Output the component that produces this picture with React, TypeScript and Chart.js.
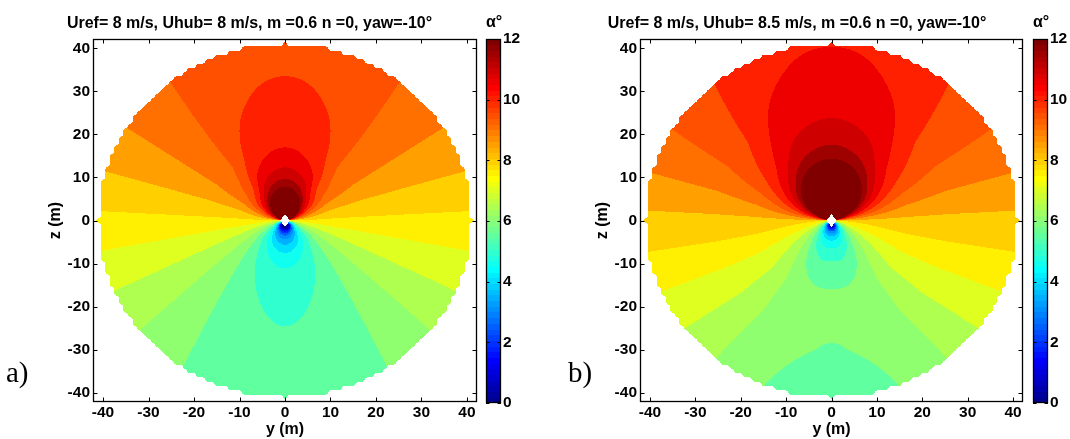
import React, { useEffect, useRef } from 'react';
import { Chart, registerables } from 'chart.js';

Chart.register(...registerables);

// ---------------- data ----------------
// polar sampling of the angle-of-attack field alpha (deg)
// rows: angle from the top of the disc (deg); columns: radius (m)
const ANGLES = [0, 15, 30, 45, 60, 75, 90, 105, 120, 135, 150, 165, 180];
const RADII = [1.5, 3, 6, 10, 17, 26, 41];

const ALPHA_A = [
  [21.9, 15.9, 12.8, 11.43, 10.5, 10.16, 9.9],
  [21.44, 15.65, 12.63, 11.28, 10.39, 10.08, 9.85],
  [20.07, 14.88, 12.12, 10.83, 10.07, 9.85, 9.68],
  [17.81, 13.56, 11.23, 9.95, 9.42, 9.36, 9.32],
  [14.95, 11.95, 10.21, 9.33, 9.03, 8.98, 8.95],
  [11.57, 10.01, 9.03, 8.56, 8.47, 8.46, 8.46],
  [7.88, 7.88, 7.88, 7.88, 7.88, 7.88, 7.88],
  [5.65, 6.51, 6.91, 7.11, 7.23, 7.28, 7.31],
  [3.58, 5.23, 6.0, 6.4, 6.62, 6.72, 6.78],
  [1.78, 4.12, 5.21, 5.77, 6.08, 6.22, 6.31],
  [0.39, 3.25, 4.59, 5.27, 5.65, 5.82, 5.93],
  [-0.46, 2.73, 4.22, 4.99, 5.41, 5.6, 5.72],
  [-0.75, 2.55, 4.1, 4.89, 5.33, 5.52, 5.65],
];

const ALPHA_B = [
  [28.0, 20.0, 15.9, 13.2, 11.57, 10.88, 10.49],
  [27.37, 19.64, 15.68, 13.07, 11.46, 10.8, 10.43],
  [25.44, 18.51, 14.96, 12.62, 11.13, 10.57, 10.22],
  [22.29, 16.63, 13.73, 11.82, 10.52, 10.01, 9.84],
  [18.27, 14.27, 12.22, 10.87, 9.88, 9.54, 9.47],
  [13.54, 11.46, 10.4, 9.7, 9.13, 8.99, 8.98],
  [8.37, 8.37, 8.37, 8.37, 8.37, 8.37, 8.37],
  [6.51, 7.21, 7.57, 7.74, 7.86, 7.86, 7.83],
  [4.72, 6.07, 6.77, 7.1, 7.33, 7.33, 7.27],
  [3.14, 5.05, 6.04, 6.5, 6.83, 6.84, 6.75],
  [1.78, 4.12, 5.33, 5.9, 6.3, 6.32, 6.2],
  [0.99, 3.6, 4.95, 5.58, 6.08, 6.15, 5.92],
  [0.8, 3.5, 4.9, 5.55, 6.05, 6.03, 5.9],
];

const AXIS_TICKS = [-40, -30, -20, -10, 0, 10, 20, 30, 40];
const CB_TICKS = [0, 2, 4, 6, 8, 10, 12];
const CB_MIN = 0;
const CB_MAX = 12;
const LEVEL_STEP = 0.5;
const DISC_RADIUS = 41;
const GRID_CELL = 1; // sampling grid of the rotor plane (m)
const HUB_HALF_W = 1.1;
const HUB_HALF_H = 1.5;
const AX_MIN = -42.2;
const AX_MAX = 42.2;

const TITLE_A = 'Uref= 8 m/s, Uhub= 8 m/s, m =0.6 n =0, yaw=-10°';
const TITLE_B = 'Uref= 8 m/s, Uhub= 8.5 m/s, m =0.6 n =0, yaw=-10°';

// ---------------- helpers ----------------
const SANS = "'Liberation Sans', Arial, Helvetica, sans-serif";

function jetRow(j: number): [number, number, number] {
  const u = (k: number) => (k < 1 || k > 47 ? 0 : k <= 16 ? k / 16 : k <= 31 ? 1 : (48 - k) / 16);
  return [Math.round(u(j - 24) * 255), Math.round(u(j - 8) * 255), Math.round(u(j + 8) * 255)];
}
const JET: [number, number, number][] = [];
for (let j = 1; j <= 64; j++) JET.push(jetRow(j));

function bandColor(v: number): [number, number, number] {
  let L = Math.floor(v / LEVEL_STEP + 1e-9) * LEVEL_STEP;
  L = Math.max(CB_MIN, Math.min(CB_MAX, L));
  const j = Math.min(64, Math.floor(((L - CB_MIN) * 64) / (CB_MAX - CB_MIN) + 1e-9) + 1);
  return JET[j - 1];
}

function catmull(p0: number, p1: number, p2: number, p3: number, s: number) {
  return 0.5 * (2 * p1 + (-p0 + p2) * s + (2 * p0 - 5 * p1 + 4 * p2 - p3) * s * s + (-p0 + 3 * p1 - 3 * p2 + p3) * s * s * s);
}

function sampleField(table: number[][], yv: number, zv: number) {
  const nR = RADII.length;
  const nA = ANGLES.length;
  const r = Math.min(Math.max(Math.hypot(yv, zv), RADII[0]), RADII[nR - 1]);
  const phi = (Math.atan2(Math.abs(yv), zv) * 180) / Math.PI;
  let k = 0;
  while (k < nR - 2 && r > RADII[k + 1]) k++;
  const u0 = 1 / RADII[k];
  const u1 = 1 / RADII[k + 1];
  const t = (1 / r - u0) / (u1 - u0);
  const step = ANGLES[1] - ANGLES[0];
  const a = (phi - ANGLES[0]) / step;
  const i1 = Math.min(Math.floor(a), nA - 2);
  const s = a - i1;
  const idx = (i: number) => (i < 0 ? -i : i > nA - 1 ? 2 * (nA - 1) - i : i);
  const val = (i: number) => {
    const row = table[idx(i)];
    return row[k] + (row[k + 1] - row[k]) * t;
  };
  return catmull(val(i1 - 1), val(i1), val(i1 + 1), val(i1 + 2), s);
}

// is the point inside the sampled rotor disc (grid nodes with r <= R, bilinear edge)
function insideDisc(yv: number, zv: number) {
  const gy = yv / GRID_CELL;
  const gz = zv / GRID_CELL;
  const y0 = Math.floor(gy);
  const z0 = Math.floor(gz);
  const fy = gy - y0;
  const fz = gz - z0;
  const node = (a: number, b: number) => (Math.hypot(a * GRID_CELL, b * GRID_CELL) <= DISC_RADIUS + 1e-6 ? 1 : 0);
  const m =
    node(y0, z0) * (1 - fy) * (1 - fz) +
    node(y0 + 1, z0) * fy * (1 - fz) +
    node(y0, z0 + 1) * (1 - fy) * fz +
    node(y0 + 1, z0 + 1) * fy * fz;
  return m >= 0.5;
}

function fieldPlugin(table: number[][]) {
  return {
    id: 'fieldPlugin',
    beforeDatasetsDraw(chart: any) {
      const { ctx, chartArea } = chart;
      const xs = chart.scales.x;
      const ys = chart.scales.y;
      const left = Math.round(chartArea.left);
      const top = Math.round(chartArea.top);
      const w = Math.round(chartArea.right) - left;
      const h = Math.round(chartArea.bottom) - top;
      const off = document.createElement('canvas');
      off.width = w;
      off.height = h;
      const octx = off.getContext('2d')!;
      const img = octx.createImageData(w, h);
      const d = img.data;
      for (let j = 0; j < h; j++) {
        const zv = ys.getValueForPixel(top + j + 0.5);
        for (let i = 0; i < w; i++) {
          const yv = xs.getValueForPixel(left + i + 0.5);
          if (Math.hypot(yv, zv) > DISC_RADIUS + 1.5) continue;
          if (!insideDisc(yv, zv)) continue;
          if (Math.abs(yv) / HUB_HALF_W + Math.abs(zv) / HUB_HALF_H <= 1) continue;
          const c = bandColor(sampleField(table, yv, zv));
          const p = (j * w + i) * 4;
          d[p] = c[0];
          d[p + 1] = c[1];
          d[p + 2] = c[2];
          d[p + 3] = 255;
        }
      }
      octx.putImageData(img, 0, 0);
      ctx.drawImage(off, left, top);
    },
  };
}

const framePlugin = {
  id: 'framePlugin',
  afterDraw(chart: any) {
    const { ctx, chartArea } = chart;
    const { left, top, right, bottom } = chartArea;
    const xs = chart.scales.x;
    const ys = chart.scales.y;
    ctx.save();
    ctx.strokeStyle = '#000';
    ctx.lineWidth = 1;
    ctx.beginPath();
    AXIS_TICKS.forEach((v) => {
      const px = Math.round(xs.getPixelForValue(v)) + 0.5;
      ctx.moveTo(px, bottom);
      ctx.lineTo(px, bottom - 4.5);
      ctx.moveTo(px, top);
      ctx.lineTo(px, top + 4.5);
      const py = Math.round(ys.getPixelForValue(v)) + 0.5;
      ctx.moveTo(left, py);
      ctx.lineTo(left + 4.5, py);
      ctx.moveTo(right, py);
      ctx.lineTo(right - 4.5, py);
    });
    ctx.stroke();
    ctx.lineWidth = 1.3;
    ctx.strokeRect(Math.round(left) + 0.5, Math.round(top) + 0.5, Math.round(right - left) - 1, Math.round(bottom - top) - 1);
    ctx.restore();
  },
};

const colorbarPlugin = {
  id: 'colorbarPlugin',
  beforeDatasetsDraw(chart: any) {
    const { ctx, chartArea } = chart;
    const ys = chart.scales.y;
    const { left, right } = chartArea;
    ctx.save();
    for (let j = 0; j < 64; j++) {
      const v0 = CB_MIN + ((CB_MAX - CB_MIN) * j) / 64;
      const v1 = CB_MIN + ((CB_MAX - CB_MIN) * (j + 1)) / 64;
      const y0 = ys.getPixelForValue(v0);
      const y1 = ys.getPixelForValue(v1);
      const c = JET[j];
      ctx.fillStyle = `rgb(${c[0]},${c[1]},${c[2]})`;
      ctx.fillRect(left, Math.floor(y1), right - left, Math.ceil(y0) - Math.floor(y1));
    }
    ctx.strokeStyle = '#000';
    ctx.lineWidth = 1;
    ctx.beginPath();
    CB_TICKS.forEach((v) => {
      const py = Math.round(ys.getPixelForValue(v)) + 0.5;
      ctx.moveTo(left, py);
      ctx.lineTo(left + 3.5, py);
      ctx.moveTo(right, py);
      ctx.lineTo(right - 3.5, py);
    });
    ctx.stroke();
    ctx.lineWidth = 1.3;
    ctx.strokeRect(Math.round(left) + 0.5, Math.round(chartArea.top) + 0.5, Math.round(right - left) - 1, Math.round(chartArea.bottom - chartArea.top) - 1);
    ctx.restore();
  },
};

const tickFont = { family: SANS, size: 15.5, weight: 'bold' as const };
const titleFont = { family: SANS, size: 16, weight: 'bold' as const };

function FieldChart(props: { table: number[][]; width: number; padLeft: number; padRight: number }) {
  const ref = useRef<HTMLCanvasElement | null>(null);
  useEffect(() => {
    const canvas = ref.current!;
    const chart = new Chart(canvas, {
      type: 'scatter',
      data: { datasets: [{ data: [], pointRadius: 0 }] },
      options: {
        animation: false,
        responsive: false,
        maintainAspectRatio: false,
        events: [],
        layout: { padding: { left: props.padLeft, top: 39, right: props.padRight, bottom: 0 } },
        plugins: { legend: { display: false }, tooltip: { enabled: false }, title: { display: false } },
        scales: {
          x: {
            type: 'linear',
            min: AX_MIN,
            max: AX_MAX,
            afterBuildTicks: (s: any) => {
              s.ticks = AXIS_TICKS.map((v) => ({ value: v }));
            },
            afterFit: (s: any) => {
              s.height = 37;
            },
            grid: { display: false, drawTicks: false },
            border: { display: false },
            ticks: { font: tickFont, color: '#000', padding: 1, maxRotation: 0, autoSkip: false, callback: (v: any) => String(v) },
            title: { display: true, text: 'y (m)', font: titleFont, color: '#000', padding: 0 },
          },
          y: {
            type: 'linear',
            min: AX_MIN,
            max: AX_MAX,
            afterBuildTicks: (s: any) => {
              s.ticks = AXIS_TICKS.map((v) => ({ value: v }));
            },
            afterFit: (s: any) => {
              s.width = 47;
            },
            grid: { display: false, drawTicks: false },
            border: { display: false },
            ticks: { font: tickFont, color: '#000', padding: 3, autoSkip: false, callback: (v: any) => String(v) },
            title: { display: true, text: 'z (m)', font: titleFont, color: '#000', padding: 0 },
          },
        },
      },
      plugins: [fieldPlugin(props.table), framePlugin],
    } as any);
    return () => chart.destroy();
  }, []);
  return <canvas ref={ref} width={props.width} height={439} style={{ display: 'block', width: props.width, height: 439 }} />;
}

function ColorBar(props: { width: number; axisWidth: number }) {
  const ref = useRef<HTMLCanvasElement | null>(null);
  useEffect(() => {
    const canvas = ref.current!;
    const chart = new Chart(canvas, {
      type: 'scatter',
      data: { datasets: [{ data: [], pointRadius: 0 }] },
      options: {
        animation: false,
        responsive: false,
        maintainAspectRatio: false,
        events: [],
        layout: { padding: { left: 16, top: 39, right: 0, bottom: 36 } },
        plugins: { legend: { display: false }, tooltip: { enabled: false } },
        scales: {
          x: { type: 'linear', display: false, min: 0, max: 1 },
          y: {
            type: 'linear',
            position: 'right',
            min: CB_MIN,
            max: CB_MAX,
            afterBuildTicks: (s: any) => {
              s.ticks = CB_TICKS.map((v) => ({ value: v }));
            },
            afterFit: (s: any) => {
              s.width = props.axisWidth;
            },
            grid: { display: false, drawTicks: false },
            border: { display: false },
            ticks: { font: tickFont, color: '#000', padding: 2, autoSkip: false, callback: (v: any) => String(v) },
          },
        },
      },
      plugins: [colorbarPlugin],
    } as any);
    return () => chart.destroy();
  }, []);
  return <canvas ref={ref} width={props.width} height={439} style={{ display: 'block', width: props.width, height: 439 }} />;
}

const abs = (left: number, top: number, extra: React.CSSProperties = {}): React.CSSProperties => ({
  position: 'absolute',
  left,
  top,
  ...extra,
});

export default function App() {
  const titleStyle: React.CSSProperties = {
    fontFamily: SANS,
    fontWeight: 'bold',
    fontSize: 16,
    lineHeight: '18px',
    textAlign: 'center',
    whiteSpace: 'nowrap',
    color: '#000',
  };
  const letterStyle: React.CSSProperties = {
    fontFamily: "'Liberation Serif', 'Times New Roman', serif",
    fontSize: 29,
    lineHeight: '34px',
    color: '#000',
  };
  return (
    <div style={{ position: 'absolute', left: 0, top: 0, width: 1070, height: 439, background: '#fff', overflow: 'hidden' }}>
      <div style={abs(0, 0)}>
        <FieldChart table={ALPHA_A} width={540} padLeft={46} padRight={63} />
      </div>
      <div style={abs(470, 0)}>
        <ColorBar width={70} axisWidth={39} />
      </div>
      <div style={abs(540, 0)}>
        <FieldChart table={ALPHA_B} width={530} padLeft={53} padRight={47} />
      </div>
      <div style={abs(1017, 0)}>
        <ColorBar width={53} axisWidth={22} />
      </div>
      <div style={abs(0, 14, { ...titleStyle, width: 499 })}>{TITLE_A}</div>
      <div style={abs(597, 14, { ...titleStyle, width: 400 })}>{TITLE_B}</div>
      <div style={abs(474, 13, { ...titleStyle, width: 40 })}>α°</div>
      <div style={abs(1021, 13, { ...titleStyle, width: 40 })}>α°</div>
      <div style={abs(6, 355, letterStyle)}>a)</div>
      <div style={abs(568, 355, letterStyle)}>b)</div>
    </div>
  );
}
